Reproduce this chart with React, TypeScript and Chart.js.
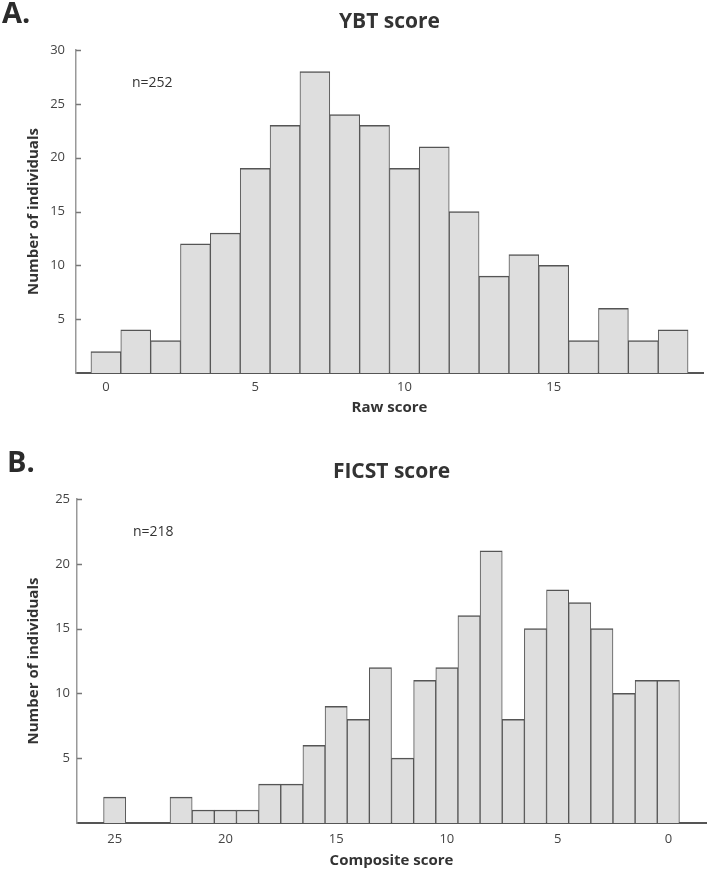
import React, { useEffect, useRef } from "react";
import { Chart, registerables } from "chart.js";

Chart.register(...registerables);

// ---------- Data ----------
const ybtScores = [0, 1, 2, 3, 4, 5, 6, 7, 8, 9, 10, 11, 12, 13, 14, 15, 16, 17, 18, 19];
const ybtCounts = [2, 4, 3, 12, 13, 19, 23, 28, 24, 23, 19, 21, 15, 9, 11, 10, 3, 6, 3, 4];
const ybtXTicks = [0, 5, 10, 15];
const ybtYTicks = [5, 10, 15, 20, 25, 30];

const ficstScores = [25, 24, 23, 22, 21, 20, 19, 18, 17, 16, 15, 14, 13, 12, 11, 10, 9, 8, 7, 6, 5, 4, 3, 2, 1, 0];
const ficstCounts = [2, 0, 0, 2, 1, 1, 1, 3, 3, 6, 9, 8, 12, 5, 11, 12, 16, 21, 8, 15, 18, 17, 15, 10, 11, 11];
const ficstXTicks = [25, 20, 15, 10, 5, 0];
const ficstYTicks = [5, 10, 15, 20, 25];

const FONT = "'Open Sans', 'DejaVu Sans', sans-serif";

type PanelCfg = {
  top: number;
  height: number;
  letter: string;
  letterX: number;
  letterBaseline: number;
  title: string;
  titlePadTop: number;
  titlePadBottom: number;
  xTitle: string;
  xTitlePadBottom: number;
  xTickPad: number;
  yTickPad: number;
  nLabel: string;
  xs: number[];
  ys: number[];
  xTicks: number[];
  yTicks: number[];
  xMin: number;
  xMax: number;
  reverse: boolean;
  yMax: number;
  chartLeft: number;
  chartRight: number;
  chartBottom: number;
};

function Panel({ cfg }: { cfg: PanelCfg }) {
  const ref = useRef<HTMLCanvasElement | null>(null);
  useEffect(() => {
    if (!ref.current) return;
    const extras = {
      id: "extras",
      afterDraw(chart: any) {
        const ctx = chart.ctx;
        const area = chart.chartArea;
        const y = chart.scales.y;
        ctx.save();
        // inward y tick marks
        ctx.strokeStyle = "#777";
        ctx.lineWidth = 1.5;
        cfg.yTicks.forEach((v) => {
          const py = Math.round(y.getPixelForValue(v)) + 0.5;
          ctx.beginPath();
          ctx.moveTo(area.left, py);
          ctx.lineTo(area.left + 5, py);
          ctx.stroke();
        });
        // panel letter
        ctx.fillStyle = "#2b2b2b";
        ctx.font = `bold 29px ${FONT}`;
        ctx.textBaseline = "alphabetic";
        ctx.textAlign = "left";
        ctx.fillText(cfg.letter, cfg.letterX, cfg.letterBaseline);
        // n label
        ctx.fillStyle = "#333";
        ctx.font = `14px ${FONT}`;
        ctx.textBaseline = "middle";
        ctx.fillText(cfg.nLabel, area.left + 56, area.top + 33);
        ctx.restore();
      },
    };
    const chart = new Chart(ref.current, {
      type: "bar",
      data: {
        datasets: [
          {
            data: cfg.xs.map((x, i) => ({ x, y: cfg.ys[i] })),
            backgroundColor: "#dedede",
            borderColor: "#555",
            borderWidth: { top: 1.5, left: 1, right: 1, bottom: 0 },
            borderSkipped: false,
            categoryPercentage: 1,
            barPercentage: 1,
          } as any,
        ],
      },
      options: {
        responsive: false,
        animation: false,
        devicePixelRatio: 1,
        layout: { padding: { left: 0, top: 0, bottom: 0, right: 709 - cfg.chartRight } },
        plugins: {
          legend: { display: false },
          tooltip: { enabled: false },
          title: {
            display: true,
            text: cfg.title,
            fullSize: false,
            color: "#333",
            font: { family: FONT, size: 21, weight: "bold" },
            padding: { top: cfg.titlePadTop, bottom: cfg.titlePadBottom },
          },
        },
        scales: {
          x: {
            type: "linear",
            min: cfg.xMin,
            max: cfg.xMax,
            reverse: cfg.reverse,
            offset: false,
            grid: { display: false, drawTicks: false },
            border: { display: true, color: "#555", width: 2 },
            ticks: {
              color: "#444",
              font: { family: FONT, size: 13 },
              padding: cfg.xTickPad,
              maxRotation: 0,
              autoSkip: false,
            },
            afterBuildTicks: (s: any) => {
              s.ticks = cfg.xTicks.map((v) => ({ value: v }));
            },
            afterFit: (s: any) => {
              s.height = cfg.height - cfg.chartBottom;
            },
            title: {
              display: true,
              text: cfg.xTitle,
              color: "#333",
              font: { family: FONT, size: 15, weight: "bold" },
              padding: { top: 0, bottom: cfg.xTitlePadBottom },
            },
          },
          y: {
            min: 0,
            max: cfg.yMax,
            grid: { display: false, drawTicks: false },
            border: { display: true, color: "#999", width: 1.5 },
            ticks: {
              color: "#444",
              font: { family: FONT, size: 13 },
              padding: cfg.yTickPad,
            },
            afterBuildTicks: (s: any) => {
              s.ticks = cfg.yTicks.map((v) => ({ value: v }));
            },
            afterFit: (s: any) => {
              s.width = cfg.chartLeft;
            },
            title: {
              display: true,
              text: "Number of individuals",
              color: "#333",
              font: { family: FONT, size: 15, weight: "bold" },
              padding: { top: 25, bottom: 0 },
            },
          },
        },
      },
      plugins: [extras],
    } as any);
    return () => chart.destroy();
  }, [cfg]);
  return (
    <canvas
      ref={ref}
      width={709}
      height={cfg.height}
      style={{ position: "absolute", left: 0, top: cfg.top, width: 709, height: cfg.height }}
    />
  );
}

const panelA: PanelCfg = {
  top: 0,
  height: 440,
  letter: "A.",
  letterX: 2,
  letterBaseline: 23,
  title: "YBT score",
  titlePadTop: 9.4,
  titlePadBottom: 15.4,
  xTitle: "Raw score",
  xTitlePadBottom: 23,
  xTickPad: 6,
  yTickPad: 11,
  nLabel: "n=252",
  xs: ybtScores,
  ys: ybtCounts,
  xTicks: ybtXTicks,
  yTicks: ybtYTicks,
  xMin: -1,
  xMax: 20,
  reverse: false,
  yMax: 30,
  chartLeft: 76,
  chartRight: 703,
  chartBottom: 373,
};

const panelB: PanelCfg = {
  top: 440,
  height: 430,
  letter: "B.",
  letterX: 7,
  letterBaseline: 32,
  title: "FICST score",
  titlePadTop: 19.4,
  titlePadBottom: 14.4,
  xTitle: "Composite score",
  xTitlePadBottom: 0,
  xTickPad: 8,
  yTickPad: 7,
  nLabel: "n=218",
  xs: ficstScores,
  ys: ficstCounts,
  xTicks: ficstXTicks,
  yTicks: ficstYTicks,
  xMin: -1.7,
  xMax: 26.7,
  reverse: true,
  yMax: 25,
  chartLeft: 77,
  chartRight: 706,
  chartBottom: 383,
};

export default function App() {
  return (
    <div style={{ position: "absolute", left: 0, top: 0, width: 709, height: 870, background: "#fff" }}>
      <Panel cfg={panelA} />
      <Panel cfg={panelB} />
    </div>
  );
}
